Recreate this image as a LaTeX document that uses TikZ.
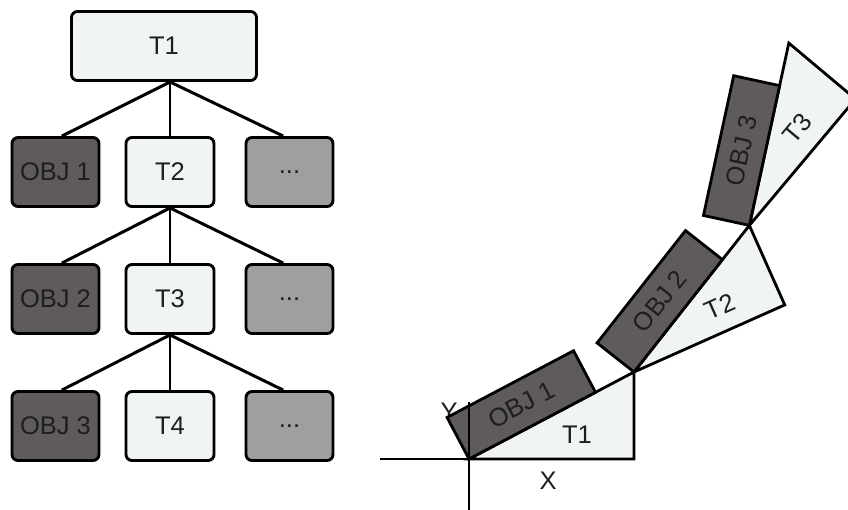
\documentclass[tikz,border=0pt]{standalone}
\usepackage{fontspec}
\setmainfont{Liberation Sans}
\definecolor{lightfill}{RGB}{241,245,241}
\definecolor{darkfill}{RGB}{94,90,94}
\definecolor{midfill}{RGB}{160,158,160}
\definecolor{txt}{RGB}{30,30,30}
\begin{document}
\begin{tikzpicture}[x=1pt,y=-1pt,
  every node/.style={font=\fontsize{25.5}{30}\selectfont, text=txt, inner sep=0pt},
  box/.style={draw=black, line width=2.9pt, rounded corners=6pt, minimum height=69pt},
  tbox/.style={box, fill=lightfill, minimum width=88pt},
  obox/.style={box, fill=darkfill, minimum width=87pt},
  mbox/.style={box, fill=midfill, minimum width=87pt},
  link/.style={line width=3pt},
  stem/.style={line width=2.2pt},
  edge/.style={draw=black, line width=2.8pt, line join=miter},
  axis/.style={line width=2.8pt}
]
\useasboundingbox (0,0) rectangle (848,509);
\clip (0,0) rectangle (848,509);

% ---------- tree of transforms ----------
\node[tbox, minimum width=185pt] (T1) at (164,46) {T1};

\node[obox] (O1) at (55.5,172) {OBJ 1};
\node[tbox] (T2) at (170,172) {T2};
\node[mbox] (D1) at (289.5,172) {...};

\node[obox] (O2) at (55.5,299) {OBJ 2};
\node[tbox] (T3) at (170,299) {T3};
\node[mbox] (D2) at (289.5,299) {...};

\node[obox] (O3) at (55.5,426) {OBJ 3};
\node[tbox] (T4) at (170,426) {T4};
\node[mbox] (D3) at (289.5,426) {...};

\draw[link] (T2.north |- T1.south) -- (O1.80);
\draw[stem] (T2.north |- T1.south) -- (T2.north);
\draw[link] (T2.north |- T1.south) -- (D1.100);

\draw[link] (T2.south) -- (O2.80);
\draw[stem] (T2.south) -- (T3.north);
\draw[link] (T2.south) -- (D2.100);

\draw[link] (T3.south) -- (O3.80);
\draw[stem] (T3.south) -- (T4.north);
\draw[link] (T3.south) -- (D3.100);

% ---------- chained frames (local y points up; canvas rotations are negated) ----------
\begin{scope}[shift={(469,459)}, yscale=-1]
  \node at (-20,47) {Y};

  % frame 1
  \draw[edge, fill=lightfill] (0,0) -- (165,0) -- (165,87) -- cycle;
  \node at (108,24) {T1};
  \begin{scope}[rotate=-27.8]
    \draw[edge, fill=darkfill] (0,0) rectangle (143,47);
    \node[rotate=27.8] at (71.5,23.5) {OBJ 1};
  \end{scope}

  % frame 2
  \begin{scope}[shift={(165,87)}, rotate=-24]
    \draw[edge, fill=lightfill] (0,0) -- (165,0) -- (165,87) -- cycle;
    \node[rotate=24] at (105,25) {T2};
    \begin{scope}[rotate=-27.8]
      \draw[edge, fill=darkfill] (0,0) rectangle (143,47);
      \node[rotate=51.8] at (71.5,23.5) {OBJ 2};
    \end{scope}
  \end{scope}

  % frame 3
  \begin{scope}[shift={(280.4,233.6)}, rotate=-50]
    \draw[edge, fill=lightfill] (0,0) -- (165,0) -- (165,87) -- cycle;
    \node[rotate=50] at (105,26) {T3};
    \begin{scope}[rotate=-27.8]
      \draw[edge, fill=darkfill] (0,0) rectangle (143,47);
      \node[rotate=77.8] at (71.5,23.5) {OBJ 3};
    \end{scope}
  \end{scope}

  % axes
  \draw[axis] (-89,0) -- (165,0);
  \draw[axis] (0,-52) -- (0,57);
  \node at (79,-22) {X};
\end{scope}
\end{tikzpicture}
\end{document}
